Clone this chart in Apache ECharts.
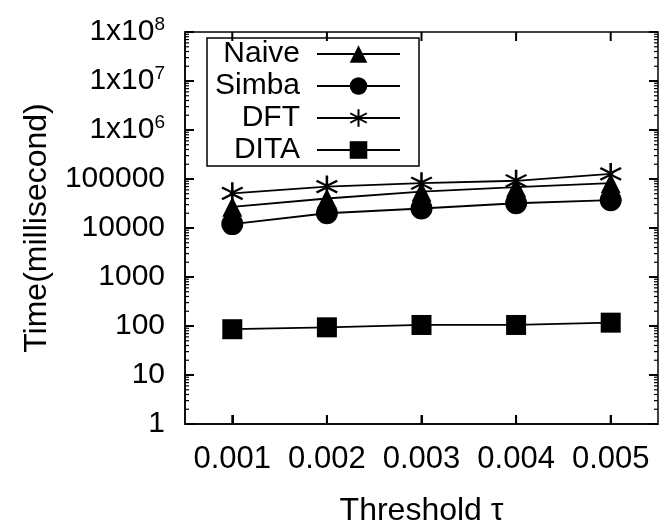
<!DOCTYPE html>
<html><head><meta charset="utf-8">
<script src="https://cdn.jsdelivr.net/npm/echarts@6/dist/echarts.min.js"></script>
<style>html,body{margin:0;padding:0;background:#fff}#c{width:664px;height:527px}</style>
</head><body><div id="c"></div>
<script>
const categories = ['0.001','0.002','0.003','0.004','0.005'];
const naive = [27000, 40000, 55000, 68000, 82000];
const simba = [12000, 20000, 25000, 32000, 37000];
const dft = [51000, 70000, 82000, 92000, 127000];
const dita = [86, 94, 105, 105, 117];
const seriesNames = ['Naive','Simba','DFT','DITA'];
const yTicks = [1, 10, 100, 1000, 10000, 100000, 1e6, 1e7, 1e8];

const FONT = 'Liberation Sans';
const star = 'path://M9,0L11,0L11,7.6L17.6,3.8L18.6,5.5L12,9.3L12,10.7L18.6,14.5L17.6,16.2L11,12.4L11,20L9,20L9,12.4L2.4,16.2L1.4,14.5L8,10.7L8,9.3L1.4,5.5L2.4,3.8L9,7.6Z';

function yLabel(v){
  const e = Math.round(Math.log10(v));
  if (e >= 6) return '1x10{s|' + e + '}';
  return String(Math.round(v));
}

const G = {left:185, right:6, top:32, bottom:103};
const chart = echarts.init(document.getElementById('c'), null, {renderer:'canvas'});
const mk = (name, data, symbol, size) => ({
  name, type:'line', data, symbol, symbolSize:size,
  lineStyle:{color:'#000', width:1.8}, itemStyle:{color:'#000'}, z: 3
});
const tickIn = {show:true, inside:true, length:9, lineStyle:{color:'#000', width:2}};

chart.setOption({
  animation:false,
  textStyle:{fontFamily:FONT, color:'#000'},
  grid:Object.assign({containLabel:false, outerBoundsMode:'none', show:true,
    borderColor:'#000', borderWidth:1.5, backgroundColor:'transparent'}, G),
  legend:{
    orient:'vertical', left:207, top:38, align:'right',
    data: seriesNames,
    itemWidth:83, itemHeight:22, itemGap:2,
    padding:[1,18,1,6],
    borderColor:'#000', borderWidth:1.5, borderRadius:0,
    textStyle:{fontFamily:FONT, fontSize:30, lineHeight:30, color:'#000', width:87, align:'right', padding:[0,12,0,0]}
  },
  xAxis:{
    type:'category', data:categories, boundaryGap:true, splitLine:{show:false},
    axisLine:{show:true, onZero:false, lineStyle:{color:'#000', width:1.5}},
    axisTick:Object.assign({alignWithLabel:true, interval:0}, tickIn),
    axisLabel:{fontFamily:FONT, fontSize:31, color:'#000', margin:20, interval:0, hideOverlap:false},
    name:'Threshold τ', nameLocation:'middle', nameGap:71,
    nameTextStyle:{fontFamily:FONT, fontSize:32, color:'#000'}
  },
  yAxis:{
    type:'log', logBase:10, min:1, max:1e8, splitLine:{show:false},
    axisLine:{show:true, onZero:false, lineStyle:{color:'#000', width:1.5}},
    axisTick:Object.assign({}, tickIn),
    axisLabel:{fontFamily:FONT, fontSize:30, color:'#000', margin:20, formatter:yLabel,
      rich:{s:{fontFamily:FONT, fontSize:19, verticalAlign:'top', padding:[0,0,14,0]}}},
    name:'Time(millisecond)', nameLocation:'middle', nameGap:132,
    nameTextStyle:{fontFamily:FONT, fontSize:32, color:'#000'}
  },
  series:[
    mk('Naive', naive, 'triangle', 20),
    mk('Simba', simba, 'circle', 22),
    mk('DFT', dft, star, 22),
    mk('DITA', dita, 'rect', 20)
  ]
});

// Tick marks on all four borders, placed through the chart's own scales.
function addTicks(){
  const pt = (ci, v) => chart.convertToPixel({gridIndex:0}, [ci, v]);
  const yb = pt(0, yTicks[0])[1];
  const yt = pt(0, yTicks[yTicks.length-1])[1];
  let xl = G.left, xr = 664 - G.right;
  try {
    const r = chart.getModel().getComponent('grid').coordinateSystem.getRect();
    xl = r.x; xr = r.x + r.width;
  } catch(e) {}
  const els = [];
  const seg = (x1,y1,x2,y2,w) => {
    if ([x1,y1,x2,y2].every(Number.isFinite)) els.push({type:'line', z:100, silent:true,
      shape:{x1,y1,x2,y2}, style:{stroke:'#000', lineWidth:w}});
  };
  categories.forEach((c, i) => {
    const x = pt(i, 1)[0];
    seg(x, yb, x, yb-9, 2);
    seg(x, yt, x, yt+9, 2);
  });
  yTicks.forEach((v, i) => {
    const y = pt(0, v)[1];
    seg(xl, y, xl+9, y, 2);
    seg(xr, y, xr-9, y, 2);
    if (i < yTicks.length-1) {
      for (let m = 2; m <= 9; m++) {
        const ym = pt(0, v*m)[1];
        seg(xl, ym, xl+4, ym, 1.2);
        seg(xr, ym, xr-4, ym, 1.2);
      }
    }
  });
  chart.setOption({graphic:{elements:els}});
}
addTicks();
</script></body></html>
